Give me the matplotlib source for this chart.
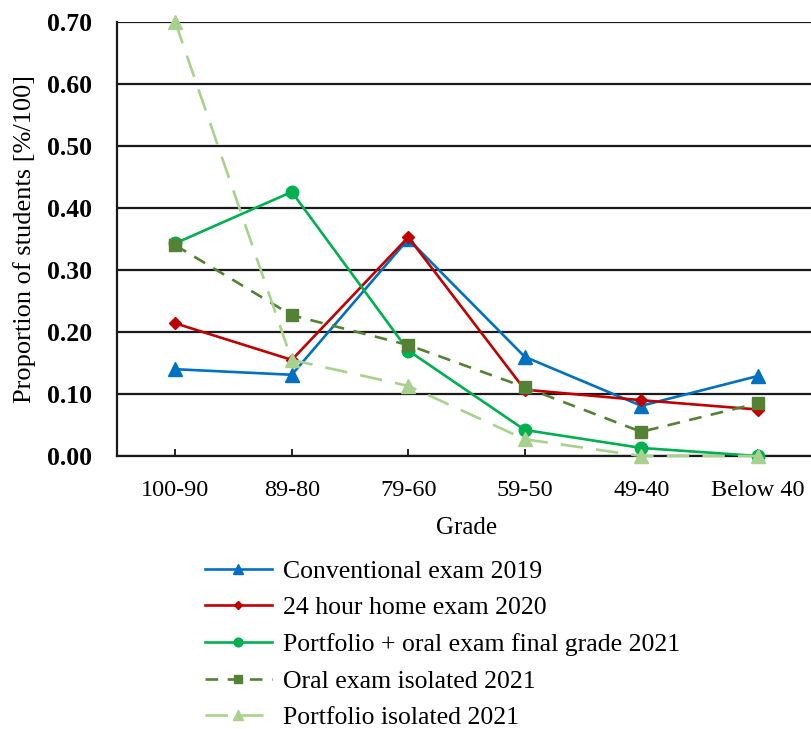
import numpy as np
import matplotlib.pyplot as plt

plt.rcParams['font.family'] = ['Liberation Serif', 'DejaVu Serif']

grades = ['100-90', '89-80', '79-60', '59-50', '49-40', 'Below 40']

conv_2019 = [0.140, 0.131, 0.350, 0.160, 0.081, 0.129]
home_2020 = [0.214, 0.155, 0.353, 0.107, 0.090, 0.075]
final_2021 = [0.343, 0.426, 0.170, 0.042, 0.013, 0.000]
oral_2021 = [0.340, 0.227, 0.179, 0.111, 0.039, 0.085]
portfolio_2021 = [0.700, 0.155, 0.113, 0.027, 0.000, 0.000]

x = np.arange(len(grades))

fig = plt.figure(figsize=(8.11, 7.29), dpi=100)
ax = fig.add_axes([117 / 811, 273 / 729, 699 / 811, 434 / 729])

lw = 1.9
ax.plot(x, conv_2019, color='#0070C0', lw=lw, marker='^', ms=10,
        label='Conventional exam 2019', clip_on=False, zorder=3)
ax.plot(x, home_2020, color='#C00000', lw=lw, marker='D', ms=6.5,
        label='24 hour home exam 2020', clip_on=False, zorder=3)
ax.plot(x, final_2021, color='#00B050', lw=lw, marker='o', ms=9,
        label='Portfolio + oral exam final grade 2021', clip_on=False, zorder=3)
ax.plot(x, oral_2021, color='#548235', lw=lw, marker='s', ms=9,
        dashes=(4.8, 3.6), label='Oral exam isolated 2021', clip_on=False, zorder=3)
ax.plot(x, portfolio_2021, color='#A9D18E', lw=lw, marker='^', ms=10,
        dashes=(8.5, 5), label='Portfolio isolated 2021', clip_on=False, zorder=3)

ax.set_xlim(-0.5, 5.5)
ax.set_ylim(0, 0.70)
yt = np.arange(0, 0.71, 0.1)
ax.set_yticks(yt)
ax.set_yticklabels([f'{v:.2f}' for v in yt], fontsize=18.5, fontweight='bold')
ax.set_xticks(x)
ax.set_xticklabels(grades, fontsize=17.5)
ax.tick_params(axis='x', direction='in', length=5, width=1.2, pad=17.5)
ax.tick_params(axis='y', length=0, pad=18)

ax.yaxis.grid(True, color='#1a1a1a', lw=1.6)
ax.set_axisbelow(True)
for s in ['top', 'right']:
    ax.spines[s].set_visible(False)
for s in ['left', 'bottom']:
    ax.spines[s].set_linewidth(1.6)
    ax.spines[s].set_color('#1a1a1a')

ax.set_xlabel('Grade', fontsize=18, labelpad=11)
ax.set_ylabel('Proportion of students [%/100]', fontsize=19, labelpad=8)

fig.legend(loc='upper left', bbox_to_anchor=(192 / 811, 1 - 547 / 729),
           frameon=False, fontsize=18.5, handlelength=2.6, handletextpad=0.45,
           labelspacing=0.53, markerscale=0.7, borderpad=0)

fig.savefig('out.png', dpi=100)
